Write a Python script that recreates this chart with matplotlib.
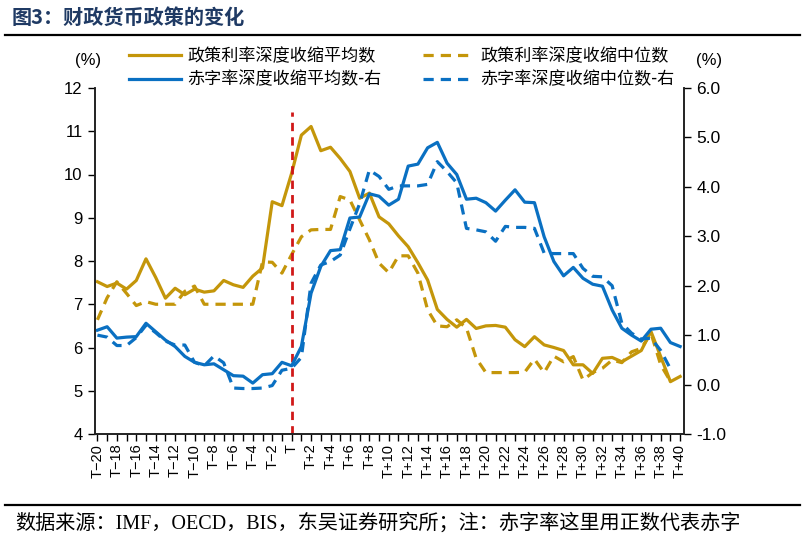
import matplotlib
matplotlib.use("Agg")
import matplotlib.pyplot as plt
from matplotlib.lines import Line2D

plt.rcParams['font.family'] = ['Noto Sans CJK SC', 'DejaVu Sans']
plt.rcParams['axes.unicode_minus'] = True

# 横轴：T-20 ... T+40
periods = list(range(-20, 41))
tick_labels = ['T' if k == 0 else ('T+%d' % k if k > 0 else 'T\u2212%d' % -k) for k in periods]

# 政策利率深度收缩平均数（左轴）
policy_mean = [7.52, 7.41, 7.49, 7.35, 7.55, 8.05, 7.62, 7.14, 7.37, 7.22,
               7.35, 7.28, 7.31, 7.55, 7.45, 7.39, 7.65, 7.84, 9.37, 9.28,
               10.03, 10.91, 11.11, 10.55, 10.63, 10.37, 10.07, 9.45, 9.57, 9.02,
               8.86, 8.58, 8.33, 7.96, 7.56, 6.88, 6.65, 6.47, 6.65, 6.44,
               6.50, 6.51, 6.47, 6.18, 6.02, 6.25, 6.06, 6.00, 5.93, 5.60,
               5.60, 5.40, 5.75, 5.77, 5.67, 5.80, 5.93, 6.37, 5.79, 5.21, 5.33]

# 政策利率深度收缩中位数（左轴），到 T+39
policy_median = [6.64, 7.15, 7.52, 7.25, 6.97, 7.06, 7.00, 7.00, 7.00, 7.30,
                 7.42, 7.00, 7.00, 7.00, 7.00, 7.00, 7.00, 7.98, 7.97, 7.72,
                 8.15, 8.56, 8.72, 8.73, 8.73, 9.49, 9.41, 8.95, 8.49, 7.95,
                 7.73, 8.12, 8.12, 7.72, 6.87, 6.50, 6.48, 6.64, 6.45, 5.75,
                 5.42, 5.42, 5.42, 5.42, 5.43, 5.73, 5.42, 5.80, 5.67, 5.79,
                 5.25, 5.42, 5.52, 5.71, 5.65, 5.90, 5.98, 6.33, 5.60, 5.22]

# 赤字率深度收缩平均数（右轴）
deficit_mean = [1.10, 1.17, 0.94, 0.96, 0.97, 1.24, 1.07, 0.90, 0.77, 0.57,
                0.45, 0.40, 0.42, 0.30, 0.18, 0.17, 0.03, 0.20, 0.22, 0.45,
                0.38, 0.77, 1.85, 2.39, 2.71, 2.73, 3.37, 3.39, 3.86, 3.81,
                3.63, 3.75, 4.42, 4.46, 4.79, 4.90, 4.48, 4.25, 3.75, 3.77,
                3.68, 3.51, 3.73, 3.94, 3.69, 3.68, 2.99, 2.49, 2.20, 2.37,
                2.15, 2.03, 1.99, 1.51, 1.14, 1.00, 0.88, 1.12, 1.14, 0.85, 0.77]

# 赤字率深度收缩中位数（右轴），到 T+39
deficit_median = [1.00, 0.96, 0.79, 0.79, 0.95, 1.20, 1.05, 0.88, 0.80, 0.80,
                  0.45, 0.38, 0.58, 0.44, -0.07, -0.08, -0.08, -0.07, -0.02, 0.29,
                  0.33, 0.55, 2.05, 2.42, 2.49, 2.62, 3.15, 3.66, 4.34, 4.21,
                  3.95, 4.02, 4.02, 4.02, 4.05, 4.51, 4.31, 4.08, 3.16, 3.13,
                  3.09, 2.90, 3.20, 3.18, 3.18, 3.16, 2.66, 2.65, 2.65, 2.65,
                  2.35, 2.19, 2.18, 2.00, 1.24, 1.04, 0.92, 0.94, 0.69, 0.32]

GOLD = '#C4960A'
BLUE = '#0A70C2'
RED = '#D01818'
LATIN = ['Liberation Sans', 'DejaVu Sans']

fig = plt.figure(figsize=(8.05, 5.38), dpi=100)
ax = fig.add_axes([95 / 805, 1 - 434 / 538, (684 - 95) / 805, (434 - 88) / 538])
ax2 = ax.twinx()

lw = 2.3
dash = (3.2, 2.2)
ax.plot(periods, policy_mean, color=GOLD, lw=lw)
ax.plot(periods[:len(policy_median)], policy_median, color=GOLD, lw=lw, dashes=dash)
ax2.plot(periods, deficit_mean, color=BLUE, lw=lw)
ax2.plot(periods[:len(deficit_median)], deficit_median, color=BLUE, lw=lw, dashes=dash)

# T 时刻的竖线
ax.plot([0, 0], [4, 11.45], color=RED, lw=2, dashes=(3, 2.2))

ax.set_xlim(-20.25, 40.4)
ax.set_ylim(4, 12)
ax2.set_ylim(-1, 6)

ax.set_xticks(periods)
ax.set_xticklabels([lab if k % 2 == 0 else '' for k, lab in zip(periods, tick_labels)],
                   rotation=90, fontsize=10.5, family=LATIN)
ax.set_yticks(range(4, 13))
ax.set_yticklabels([str(v) for v in range(4, 13)], fontsize=12, family=LATIN)
ax2.set_yticks(range(-1, 7))
ax2.set_yticklabels(['%.1f' % v for v in range(-1, 7)], fontsize=12.5, family=LATIN)

for a in (ax, ax2):
    a.spines['top'].set_visible(False)
    for s in ('left', 'right', 'bottom'):
        a.spines[s].set_linewidth(1.2)
        a.spines[s].set_color('#222222')
ax.tick_params(axis='x', direction='out', length=5, width=1, pad=2)
ax.tick_params(axis='y', direction='out', length=5, width=1, pad=4)
ax2.tick_params(axis='y', direction='out', length=5, width=1, pad=4)

# 图例
handles = [Line2D([], [], color=GOLD, lw=lw),
           Line2D([], [], color=BLUE, lw=lw),
           Line2D([], [], color=GOLD, lw=lw, dashes=dash),
           Line2D([], [], color=BLUE, lw=lw, dashes=dash)]
labels = ['政策利率深度收缩平均数', '赤字率深度收缩平均数-右',
          '政策利率深度收缩中位数', '赤字率深度收缩中位数-右']
fig.legend(handles, labels, ncol=2, loc='center left',
           bbox_to_anchor=(114 / 805, 1 - 68 / 538), frameon=False,
           fontsize=12.3, handlelength=3.0, handletextpad=0.4,
           columnspacing=2.4, labelspacing=0.3)

fig.text(101 / 805, 1 - 60 / 538, '(%)', ha='right', va='center', fontsize=12, family=LATIN)
fig.text(696 / 805, 1 - 60 / 538, '(%)', ha='left', va='center', fontsize=12, family=LATIN)

# 标题与注释
fig.text(12 / 805, 1 - 17 / 538, '图3：财政货币政策的变化', ha='left', va='center',
         fontsize=14.5, fontweight='bold', color='#1F3A64')
fig.add_artist(Line2D([5 / 805, 800 / 805], [1 - 35 / 538] * 2, color='black', lw=1.6))
fig.add_artist(Line2D([5 / 805, 800 / 805], [1 - 505 / 538] * 2, color='black', lw=1.6))
fig.text(15 / 805, 1 - 523 / 538, '数据来源：IMF，OECD，BIS，东吴证券研究所；注：赤字率这里用正数代表赤字',
         ha='left', va='center', fontsize=14.5,
         family=['Liberation Serif', 'Noto Sans CJK SC'])

fig.savefig('out.png', dpi=100)
